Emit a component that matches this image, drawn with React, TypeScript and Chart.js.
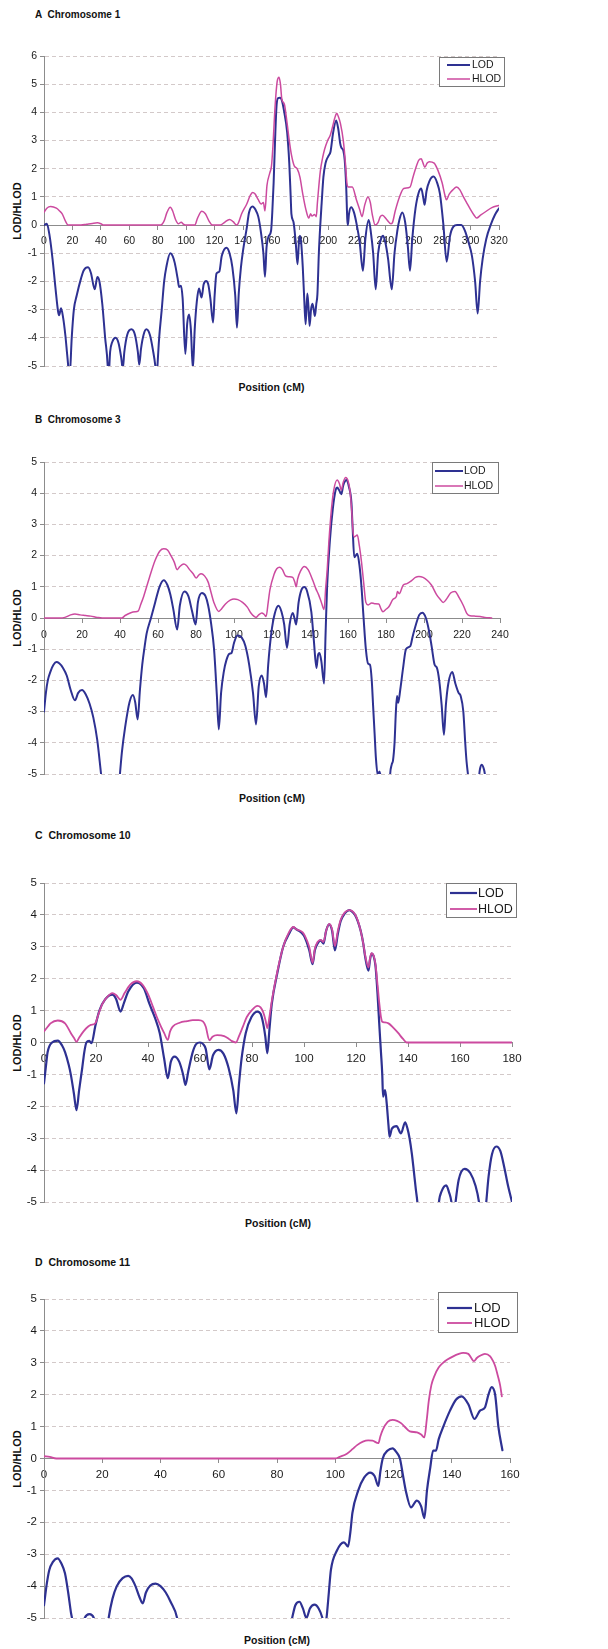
import React, { useEffect, useRef } from 'react';
import { Chart, registerables } from 'chart.js';

Chart.register(...registerables);

const FONT = '"Liberation Sans", Arial, Helvetica, sans-serif';
const LOD_COLOR = '#2e3192';
const HLOD_COLOR = '#cc4a9f';
const AXIS_COLOR = '#8c8c8c';
const GRID_COLOR = '#d3c9c9';
const TEXT_COLOR = '#1a1a1a';

const SERIES_LABELS = ['LOD', 'HLOD'];
const Y_TITLE = 'LOD/HLOD';
const X_TITLE = 'Position (cM)';

// ---------- Chromosome 1 ----------
const chr1LodPos = [0, 2, 4, 6, 8, 10, 10.6, 12, 13.5, 15,
  16.5, 18, 19.5, 21, 23, 26, 28, 31, 33, 35.7,
  37.5, 39, 41, 43, 44.8, 45.2, 46.5, 48, 50.3, 52.5,
  54.3, 55.4, 56.5, 58.5, 61.5, 64, 66, 67, 68.2, 70,
  72, 74.5, 76.5, 78.5, 79.2, 79.8, 81, 82.8, 84.5, 86,
  88.8, 90.5, 92, 94, 95, 96.3, 97.5, 99.4, 100.7, 102,
  103.3, 104.7, 106, 107.5, 109, 110.8, 112.3, 114, 115.5, 117,
  118.9, 120, 121.3, 123.3, 125, 128.4, 130.5, 132.5, 134.5, 135.7,
  137, 138.5, 140, 142.6, 144.2, 146.7, 148.7, 150.7, 152.7, 154.3,
  155.4, 156.5, 158, 159.7, 160.5, 161.5, 162.5, 163.5, 164.5, 166,
  167.3, 169, 171, 172.5, 173.5, 174, 175.5, 177, 178.3, 179.3,
  180, 181, 182, 183, 184, 185.2, 186, 186.8, 187.8, 188.8,
  189.7, 190.5, 191.5, 192.3, 193.3, 194.3, 195.3, 196.5, 198, 200,
  201.5, 203.4, 205.5, 207, 208.3, 209.1, 210.5, 211.5, 212.5, 213.3,
  213.7, 214.5, 216, 218, 220, 222, 224.3, 226, 228.4, 230,
  231.5, 233.3, 235, 237, 238.5, 240, 242, 244.6, 246.5, 248.5,
  250, 252, 254, 255.8, 257.4, 259, 261.3, 263.5, 265.3, 266.8,
  267.7, 269, 271, 274, 276.5, 278.5, 280.8, 283.2, 285.5, 288,
  290.5, 293.5, 296, 298.5, 301, 303.2, 305, 306.7, 308.5, 311,
  314.5, 317, 320];
const chr1Lod = [0, 0.05, -0.4, -1.2, -2.2, -3.1, -3.2, -2.95, -3.3, -3.9,
  -4.7, -5.4, -4.0, -3.0, -2.5, -1.9, -1.6, -1.5, -1.7, -2.28,
  -1.84, -2.0, -2.8, -4.0, -5.0, -5.6, -4.5, -4.15, -4.0, -4.2,
  -4.7, -5.1, -4.5, -3.9, -3.7, -3.9, -4.5, -4.95, -4.4, -3.9,
  -3.7, -3.9, -4.4, -5.1, -5.6, -5.0, -4.0, -3.0, -2.0, -1.5,
  -1.0, -1.1, -1.35, -1.9, -2.2, -2.15, -2.6, -4.57, -3.5, -3.17,
  -3.7, -5.1, -3.7, -2.7, -2.25, -2.57, -2.1, -1.98, -2.1, -2.6,
  -3.46, -2.5, -1.72, -1.65, -1.1, -0.8, -1.0, -1.5, -2.5, -3.64,
  -2.4, -1.5, -0.9, -0.1, 0.45, 0.66, 0.55, 0.3, -0.3, -1.0,
  -1.83, -0.8, -0.4, -0.2, 0.4, 1.5, 3.0, 4.2, 4.5, 4.52,
  4.42, 4.0, 3.3, 2.2, 1.0, 0.4, 0.1, -0.6, -1.39, -0.6,
  -0.38, -0.7, -1.5, -2.6, -3.52, -2.43, -2.9, -3.58, -3.0, -2.79,
  -3.0, -3.23, -2.8, -2.45, -1.0, 0.0, 0.8, 1.7, 2.2, 2.45,
  2.6, 3.3, 3.71, 3.4, 2.9, 2.75, 2.65, 2.3, 1.4, 0.2,
  0.0, 0.4, 0.63, 0.45, 0.0, -0.6, -1.62, -0.5, 0.18, -0.3,
  -1.0, -2.28, -1.0, -0.5, -0.38, -0.6, -1.2, -2.28, -1.0, -0.2,
  0.2, 0.45, 0.1, -0.7, -1.62, -0.5, 0.6, 1.15, 1.3, 0.95,
  0.72, 1.2, 1.55, 1.72, 1.5, 1.1, 0.06, -1.3, -0.4, -0.05,
  0.0, 0.0, -0.2, -0.6, -1.1, -2.0, -3.14, -2.0, -1.2, -0.5,
  0.05, 0.35, 0.6];
const chr1HlodPos = [0, 2, 4.7, 8.7, 11, 12.8, 15, 17, 26, 30,
  34, 37.5, 40, 42, 82, 84.5, 86.5, 88.8, 90.5, 92.5,
  94.5, 96.5, 98, 99.5, 106, 108, 111, 113.5, 116, 118.5,
  124, 127, 130.5, 133, 135.5, 136.5, 139, 142.6, 145, 146.7,
  148.5, 150.7, 152.7, 154.3, 155.4, 156.8, 158.8, 160, 161, 162.5,
  164, 165.3, 166.3, 167.3, 169, 171, 172.5, 174, 176, 178,
  180, 182, 184.2, 186.2, 187.5, 188.5, 190.3, 191.5, 192.3, 194.3,
  196, 197.4, 199.5, 201.4, 203, 204.5, 205.9, 207, 208.5, 210.5,
  212, 213, 214, 216.8, 219.7, 222, 223.7, 225.5, 227.8, 229.5,
  230.8, 232.9, 235, 236.5, 238, 241, 244, 245, 247, 250,
  253, 257.4, 259.5, 261.3, 263.5, 265.3, 266.6, 267.8, 269.5, 271,
  274.4, 277, 280, 282, 283, 285, 287.5, 290.2, 292.5, 295,
  297.2, 300, 302.5, 304.3, 307, 311.3, 315, 320];
const chr1Hlod = [0.45, 0.6, 0.66, 0.6, 0.5, 0.4, 0.15, 0.0, 0.0, 0.03,
  0.06, 0.08, 0.05, 0.0, 0.0, 0.15, 0.45, 0.63, 0.5, 0.2,
  0.05, 0.1, 0.03, 0.0, 0.0, 0.25, 0.49, 0.4, 0.15, 0.0,
  0.0, 0.1, 0.2, 0.12, 0.0, 0.05, 0.4, 0.75, 1.05, 1.16,
  1.1, 0.9, 0.75, 0.8, 0.5, 1.4, 1.85, 2.1, 2.8, 4.2,
  5.1, 5.25, 5.0, 4.45, 4.3, 3.6, 3.0, 2.5, 2.1, 2.0,
  1.7, 1.1, 0.55, 0.25, 0.4, 0.32, 0.38, 0.3, 0.8, 1.9,
  2.4, 2.7, 3.0, 3.2, 3.5, 3.8, 3.97, 3.85, 3.6, 3.0,
  2.2, 1.5, 1.35, 1.35, 0.9, 0.55, 0.3, 0.7, 1.0, 0.8,
  0.4, 0.0, 0.1, 0.3, 0.35, 0.2, 0.05, 0.08, 0.5, 1.0,
  1.3, 1.35, 1.7, 2.0, 2.3, 2.35, 2.2, 2.05, 2.2, 2.25,
  2.2, 1.95, 1.5, 1.05, 0.9, 1.1, 1.25, 1.35, 1.25, 1.0,
  0.8, 0.55, 0.35, 0.25, 0.35, 0.5, 0.62, 0.7];

// ---------- Chromosome 3 ----------
const chr3LodPos = [0, 1, 2, 3.5, 5, 6.5, 8, 10, 12, 14,
  16.3, 18, 20, 22, 24, 26, 28, 29.5, 30.5, 32,
  38, 39.7, 41, 42.7, 45, 46.8, 48, 49.3, 50.5, 51.7,
  53, 54, 56.3, 58.5, 60.8, 63, 65, 66.5, 68, 70.1,
  71.5, 73.9, 76, 78, 79.8, 81, 83.1, 85, 86.4, 88,
  89.5, 91, 92, 93.2, 94.7, 96, 97.5, 98.7, 100, 101.8,
  104, 106, 108, 110, 111.6, 113, 114.6, 115.8, 116.9, 118,
  119.6, 121.5, 123.4, 125, 126.4, 127.9, 129.3, 130.9, 131.8, 132.7,
  134, 135.5, 137, 138.5, 140.7, 142, 143.4, 144.2, 145, 146,
  147.4, 148.2, 149, 150.5, 152, 153.5, 154.3, 155.3, 156.5, 157.5,
  159.3, 160.5, 161.8, 162.5, 163.3, 164.9, 166, 167.1, 168.2, 169.4,
  170.6, 171.6, 172.5, 173.2, 174, 174.7, 175.7, 176.5, 177.5, 178.5,
  181.5, 182.2, 183, 183.7, 184.5, 185.2, 185.8, 186.4, 187.5, 189,
  190.5, 192.8, 194, 195.8, 197.5, 199.1, 201, 202.6, 204, 205.6,
  206.8, 208, 209.3, 210.5, 211.5, 212.8, 214.9, 216.5, 218.2, 219.3,
  220.7, 221.7, 222.4, 223.3, 224.5, 228.5, 229.3, 230.3, 231.3, 232.2,
  233];
const chr3Lod = [-3.0, -2.4, -2.0, -1.7, -1.5, -1.41, -1.45, -1.6, -1.85, -2.3,
  -2.64, -2.4, -2.31, -2.45, -2.75, -3.2, -3.9, -4.7, -5.3, -6.5,
  -6.5, -5.2, -4.3, -3.5, -2.7, -2.47, -2.7, -3.25, -2.3, -1.5,
  -0.9, -0.5, 0.0, 0.5, 1.0, 1.21, 1.05, 0.75, 0.3, -0.37,
  0.4, 0.85, 0.7, 0.2, -0.21, 0.5, 0.8, 0.7, 0.4, -0.2,
  -1.0, -2.5, -3.57, -2.4, -1.7, -1.35, -1.15, -1.12, -0.8, -0.56,
  -0.62, -0.9, -1.5, -2.4, -3.41, -2.2, -1.84, -2.1, -2.54, -1.5,
  -0.5, 0.15, 0.39, 0.2, -0.2, -0.96, -0.2, 0.16, 0.0, -0.21,
  0.5, 0.9, 0.99, 0.85, 0.2, -0.7, -1.6, -1.2, -1.12, -1.4,
  -2.1, -0.5, 1.0, 2.5, 3.5, 4.1, 4.18, 4.1, 3.97, 4.25,
  4.42, 4.2, 3.7, 2.8, 1.95, 2.06, 1.7, 1.0, 0.0, -1.0,
  -1.47, -1.5, -2.0, -2.8, -3.7, -4.5, -5.05, -4.92, -5.2, -6.0,
  -6.0, -5.0, -4.7, -4.56, -4.0, -3.0, -2.5, -2.72, -2.3, -1.6,
  -1.0, -0.9, -0.6, -0.2, 0.1, 0.17, 0.0, -0.4, -0.9, -1.5,
  -1.6, -2.0, -2.8, -3.74, -2.8, -2.1, -1.73, -2.1, -2.4, -2.5,
  -3.0, -4.0, -4.6, -5.1, -6.0, -5.4, -4.9, -4.7, -4.8, -5.1,
  -6.0];
const chr3HlodPos = [0, 8, 11, 14, 16.3, 19, 22, 24.6, 28, 30.6,
  41, 42.7, 45.7, 48, 49.5, 51, 52.5, 55.5, 58.5, 61,
  63, 65, 66.8, 68.5, 70.1, 71.5, 73.6, 75, 76.6, 78.5,
  80.1, 81.5, 82.7, 84.5, 86.4, 88, 89.4, 92, 93.5, 95.5,
  98, 100, 102, 104.5, 107, 109, 111.6, 113, 114.6, 115.8,
  116.9, 118, 118.9, 121.1, 122.5, 124.1, 125.5, 127.1, 129, 130.9,
  132, 132.7, 133.5, 135, 137, 139, 141.5, 143, 144.5, 146,
  147.4, 148.3, 149, 150, 151.3, 152.5, 154.3, 155.5, 156.5, 157.5,
  158.8, 160, 161, 162, 162.6, 163.3, 164.9, 166, 167.1, 168.3,
  169.4, 170.6, 172.4, 174, 176.2, 177.3, 178.4, 180, 181.4, 183.7,
  185.5, 186, 187, 189, 191, 193.5, 195.5, 197.3, 199.5, 201.8,
  204, 206.6, 208.5, 210.1, 212, 214, 216.3, 218.5, 220.7, 222.5,
  224.2, 227, 229.5, 232, 235.6];
const chr3Hlod = [0, 0, 0.02, 0.1, 0.13, 0.1, 0.08, 0.06, 0.02, 0,
  0, 0.08, 0.17, 0.2, 0.22, 0.45, 0.7, 1.3, 1.85, 2.15,
  2.22, 2.18, 2.0, 1.8, 1.55, 1.65, 1.73, 1.68, 1.55, 1.42,
  1.28, 1.38, 1.42, 1.35, 1.15, 0.8, 0.5, 0.21, 0.3, 0.45,
  0.57, 0.61, 0.59, 0.5, 0.35, 0.15, 0.02, 0.1, 0.16, 0.12,
  0.05, 0.5, 0.9, 1.4, 1.58, 1.63, 1.55, 1.35, 1.32, 1.3,
  1.15, 1.0, 1.25, 1.5, 1.65, 1.55, 1.2, 0.95, 0.75, 0.5,
  0.27, 1.0, 1.5, 2.5, 3.5, 4.1, 4.42, 4.3, 4.1, 4.35,
  4.5, 4.4, 4.1, 3.4, 2.8, 2.6, 2.66, 2.3, 1.8, 1.1,
  0.5, 0.42, 0.48, 0.46, 0.45, 0.3, 0.2, 0.28, 0.35, 0.6,
  0.7, 0.85, 0.78, 1.05, 1.1, 1.2, 1.3, 1.33, 1.3, 1.2,
  1.05, 0.75, 0.6, 0.5, 0.62, 0.8, 0.85, 0.65, 0.4, 0.15,
  0.07, 0.06, 0.05, 0.02, 0];

// ---------- Chromosome 10 ----------
const chr10LodPos = [0, 0.8, 1.4, 3.1, 5.3, 7, 8.1, 9.5, 10.3, 11.5,
  12.5, 13.5, 14.7, 15.5, 16.3, 17.4, 18.3, 19.7, 21.3, 23.5,
  26.3, 27.8, 29.4, 30.8, 32.4, 35.7, 38.4, 40.6, 42.8, 44.5,
  46.2, 47.6, 48.8, 50.2, 52, 53.5, 54.4, 55.5, 57.2, 58.5,
  60, 61.2, 62.2, 63.6, 65, 67.1, 69, 71, 72.8, 74,
  75, 76, 77.6, 79.8, 82.1, 83.3, 84.3, 85.1, 85.9, 86.7,
  87.6, 89.8, 92, 94.2, 95.9, 97, 98.1, 99.5, 100.3, 102,
  103.3, 104.2, 105.2, 106.4, 107.5, 108.5, 109.7, 110.8, 111.9, 113,
  114.1, 115.7, 117.4, 118.5, 119.6, 120.7, 121.8, 122.8, 123.5, 124.8,
  125.4, 126, 126.8, 127.5, 128.3, 129, 129.6, 130.1, 130.4, 131.2,
  131.8, 132.5, 132.9, 133.8, 135.6, 137.3, 138.9, 139.8, 140.6, 141.5,
  142.2, 143, 143.6, 144.5, 151, 151.9, 153, 154.7, 155.8, 156.7,
  157.3, 157.8, 158.3, 159.5, 161.8, 164, 166, 167.3, 168, 169.5,
  170.1, 171, 172.3, 174, 175.5, 177, 178.5, 180];
const chr10Lod = [-1.28, -0.7, -0.3, 0.0, 0.06, -0.1, -0.3, -0.7, -1.0, -1.6,
  -2.12, -1.5, -0.8, -0.3, 0.0, 0.05, -0.02, 0.5, 1.0, 1.35,
  1.5, 1.35, 0.97, 1.25, 1.6, 1.88, 1.7, 1.2, 0.75, 0.3,
  -0.5, -1.12, -0.6, -0.44, -0.6, -1.0, -1.33, -0.9, -0.3, -0.05,
  0.0, -0.05, -0.2, -0.84, -0.4, -0.23, -0.35, -0.8, -1.5, -2.22,
  -1.3, -0.5, 0.3, 0.8, 0.97, 0.9, 0.6, 0.2, -0.34, 0.4,
  1.2, 2.2, 3.0, 3.4, 3.61, 3.55, 3.5, 3.4, 3.3, 2.9,
  2.46, 2.9, 3.1, 3.2, 3.1, 3.5, 3.7, 3.5, 2.89, 3.4,
  3.8, 4.05, 4.15, 4.1, 4.0, 3.8, 3.5, 3.1, 2.7, 2.25,
  2.6, 2.79, 2.7, 2.4, 1.5, 0.5, -0.3, -1.0, -1.7, -1.49,
  -1.9, -2.6, -2.95, -2.7, -2.62, -2.85, -2.5, -2.7, -3.0, -3.5,
  -4.0, -4.6, -5.0, -6.0, -6.0, -5.0, -4.65, -4.48, -4.7, -5.0,
  -5.5, -5.4, -5.0, -4.3, -3.96, -4.1, -4.5, -5.0, -5.5, -5.5,
  -5.0, -4.2, -3.5, -3.26, -3.4, -3.9, -4.5, -5.0];
const chr10HlodPos = [0, 1.5, 2.5, 5.3, 8.1, 10.3, 11.5, 12.5, 13.5, 15.2,
  17, 18, 19.7, 21, 22.4, 24, 26.3, 27.8, 29.4, 31,
  33, 35.7, 38, 40.1, 42, 43.4, 45, 46.2, 47.6, 48.5,
  49.5, 52.2, 55, 57.2, 59.5, 61.1, 62.2, 63.6, 64.8, 66.6,
  69.3, 71, 72.1, 73.8, 75, 76.5, 78, 79.8, 82.1, 83.3,
  84.3, 85.2, 85.9, 86.7, 87.6, 89.8, 92, 94.2, 95.9, 97,
  98.1, 99.5, 100.3, 102, 103.3, 104.2, 105.2, 106.4, 107.5, 108.5,
  109.7, 110.8, 111.9, 113, 114.1, 115.7, 117.4, 118.5, 119.6, 120.7,
  121.8, 122.8, 123.5, 124.8, 125.4, 126, 126.8, 127.5, 128.3, 129,
  129.6, 130.1, 131, 132.5, 134.5, 136.2, 138, 139.5, 180];
const chr10Hlod = [0.35, 0.5, 0.6, 0.69, 0.6, 0.3, 0.15, 0.02, 0.15, 0.35,
  0.5, 0.55, 0.6, 0.9, 1.2, 1.4, 1.55, 1.48, 1.34, 1.55,
  1.8, 1.92, 1.8, 1.5, 1.1, 0.8, 0.5, 0.3, 0.08, 0.35,
  0.5, 0.62, 0.67, 0.7, 0.7, 0.66, 0.5, 0.07, 0.18, 0.23,
  0.2, 0.12, 0.05, 0.0, 0.2, 0.5, 0.8, 1.0, 1.15, 1.1,
  0.95, 0.7, 0.45, 0.8, 1.3, 2.25, 3.0, 3.45, 3.62, 3.55,
  3.52, 3.45, 3.35, 3.0, 2.5, 2.95, 3.15, 3.22, 3.15, 3.5,
  3.72, 3.55, 3.02, 3.5, 3.85, 4.08, 4.15, 4.12, 4.02, 3.82,
  3.5, 3.1, 2.75, 2.35, 2.65, 2.8, 2.72, 2.45, 1.8, 1.2,
  0.8, 0.65, 0.63, 0.6, 0.45, 0.3, 0.12, 0.0, 0.0];

// ---------- Chromosome 11 ----------
const chr11LodPos = [0, 1, 1.8, 3, 4.7, 6, 7.2, 8.3, 9.2, 9.9,
  10.5, 13, 14, 15.6, 17.1, 18, 21.5, 22.2, 23.5, 25,
  27, 28.9, 30, 31.4, 32.8, 33.9, 35, 36.5, 38.3, 40,
  41.8, 43.5, 45.7, 46.5, 84, 85.2, 86.3, 87.7, 88.9, 90.1,
  91.3, 92.9, 94.3, 95.6, 96.3, 97, 97.8, 98.5, 100.5, 103,
  104.4, 105.2, 105.9, 107.9, 109.9, 112, 113.5, 114.8, 115.5, 116.3,
  118, 119.7, 121, 122.2, 123.2, 124.2, 126, 128, 129.5, 130.6,
  131.5, 132.6, 133.6, 134.6, 135.5, 137.1, 139.4, 141.5, 143.4, 145.7,
  147.8, 149.7, 151.4, 152.6, 153.7, 154.9, 156, 157.4];
const chr11Lod = [-4.6, -3.9, -3.5, -3.25, -3.13, -3.3, -3.6, -4.2, -4.8, -5.2,
  -6.0, -5.5, -5.0, -4.88, -5.0, -5.6, -5.5, -5.0, -4.4, -4.0,
  -3.75, -3.68, -3.75, -4.0, -4.35, -4.54, -4.2, -3.98, -3.92, -4.0,
  -4.2, -4.5, -5.0, -5.5, -5.5, -5.0, -4.6, -4.49, -4.7, -5.0,
  -4.7, -4.58, -4.7, -5.0, -5.3, -5.0, -4.2, -3.5, -2.9, -2.63,
  -2.76, -2.3, -1.7, -1.0, -0.6, -0.44, -0.55, -0.86, -0.4, 0.0,
  0.25, 0.32, 0.2, 0.0, -0.5, -1.0, -1.53, -1.32, -1.5, -1.87,
  -1.0, -0.3, 0.25, 0.25, 0.6, 1.0, 1.5, 1.85, 1.95, 1.7,
  1.24, 1.5, 1.6, 2.0, 2.24, 2.0, 1.0, 0.26];
const chr11HlodPos = [0, 2, 4.2, 100, 101.5, 104, 106, 107.5, 109.5, 111.3,
  112.8, 114.8, 115.5, 116.3, 118, 119.7, 121.2, 122.7, 124, 125.6,
  128.1, 129.5, 130.6, 131.4, 132.1, 133, 134.1, 135.5, 137, 138.5,
  140.5, 142.2, 143.9, 145.7, 146.7, 147.6, 148.6, 149.7, 151.4, 153.2,
  154.2, 154.9, 155.8, 156.6, 157.2];
const chr11Hlod = [0.07, 0.05, 0.0, 0.0, 0.05, 0.15, 0.3, 0.42, 0.53, 0.57,
  0.56, 0.48, 0.7, 0.9, 1.15, 1.21, 1.18, 1.1, 0.98, 0.85,
  0.82, 0.75, 0.66, 1.2, 1.8, 2.3, 2.6, 2.85, 3.0, 3.1,
  3.2, 3.27, 3.31, 3.28, 3.15, 3.05, 3.15, 3.22, 3.28, 3.2,
  3.05, 2.9, 2.6, 2.3, 1.95];

// ---------- layout of the four panels ----------
const PANELS = [
  {
    title: 'A  Chromosome 1', xMax: 320, yMax: 6,
    lodPos: chr1LodPos, lod: chr1Lod, hlodPos: chr1HlodPos, hlod: chr1Hlod,
    plotTop: 56, plotBottom: 366, plotRight: 499, titleY: 15, xTitleY: 387,
    tickFont: 10.5, xTickPad: 6, lodWidth: 2, hlodWidth: 1.5, titleFont: 10,
    legend: { x: 439, y: 57, w: 66, h: 30, font: 10.5, lineX0: 447, lineX1: 470, textX: 472, rows: [8, 22] },
  },
  {
    title: 'B  Chromosome 3', xMax: 240, yMax: 5,
    lodPos: chr3LodPos, lod: chr3Lod, hlodPos: chr3HlodPos, hlod: chr3Hlod,
    plotTop: 462, plotBottom: 774, plotRight: 500, titleY: 420, xTitleY: 798,
    tickFont: 10.5, xTickPad: 7, lodWidth: 2, hlodWidth: 1.5, titleFont: 10,
    legend: { x: 432, y: 462, w: 67, h: 32, font: 10.5, lineX0: 435, lineX1: 463, textX: 464, rows: [9, 24] },
  },
  {
    title: 'C  Chromosome 10', xMax: 180, yMax: 5,
    lodPos: chr10LodPos, lod: chr10Lod, hlodPos: chr10HlodPos, hlod: chr10Hlod,
    plotTop: 883, plotBottom: 1202, plotRight: 512, titleY: 835, xTitleY: 1223,
    tickFont: 11.5, xTickPad: 5, lodWidth: 2.2, hlodWidth: 1.8, titleFont: 10.5,
    legend: { x: 446, y: 883, w: 71, h: 35, font: 12.5, lineX0: 450, lineX1: 477, textX: 478, rows: [10, 26] },
  },
  {
    title: 'D  Chromosome 11', xMax: 160, yMax: 5,
    lodPos: chr11LodPos, lod: chr11Lod, hlodPos: chr11HlodPos, hlod: chr11Hlod,
    plotTop: 1299, plotBottom: 1618, plotRight: 510, titleY: 1262, xTitleY: 1640,
    tickFont: 11.5, xTickPad: 5, lodWidth: 2.2, hlodWidth: 1.8, titleFont: 10.5,
    legend: { x: 438, y: 1292, w: 80, h: 41, font: 13, lineX0: 447, lineX1: 472, textX: 474, rows: [16, 31] },
  },
];

const PAD = 14;

const boxLegend = {
  id: 'boxLegend',
  afterDatasetsDraw(chart: any, _args: any, opts: any) {
    const ctx = chart.ctx;
    ctx.save();
    ctx.fillStyle = '#ffffff';
    ctx.fillRect(opts.x, opts.y, opts.w, opts.h);
    ctx.strokeStyle = '#7a7a7a';
    ctx.lineWidth = 1;
    ctx.setLineDash([]);
    ctx.strokeRect(opts.x + 0.5, opts.y + 0.5, opts.w - 1, opts.h - 1);
    ctx.font = `${opts.font}px ${FONT}`;
    ctx.textBaseline = 'middle';
    ctx.textAlign = 'left';
    chart.data.datasets.forEach((ds: any, i: number) => {
      const cy = opts.y + opts.rows[i];
      ctx.strokeStyle = ds.borderColor;
      ctx.lineWidth = ds.borderWidth;
      ctx.beginPath();
      ctx.moveTo(opts.lineX0, cy);
      ctx.lineTo(opts.lineX1, cy);
      ctx.stroke();
      ctx.fillStyle = TEXT_COLOR;
      ctx.fillText(ds.label, opts.textX, cy + 0.5);
    });
    ctx.restore();
  },
};

function Panel({ spec }: { spec: any }) {
  const ref = useRef<HTMLCanvasElement>(null);
  const canvasTop = spec.plotTop - PAD;
  const canvasH = spec.plotBottom - spec.plotTop + 2 * PAD;

  useEffect(() => {
    const canvas = ref.current;
    if (!canvas) return;
    const pts = (xs: number[], ys: number[]) => xs.map((x, i) => ({ x, y: ys[i] }));
    const chart = new Chart(canvas, {
      type: 'line',
      data: {
        datasets: [
          {
            label: SERIES_LABELS[0],
            data: pts(spec.lodPos, spec.lod),
            borderColor: LOD_COLOR,
            borderWidth: spec.lodWidth,
            pointRadius: 0,
            fill: false,
            cubicInterpolationMode: 'monotone',
            borderJoinStyle: 'round',
            borderCapStyle: 'round',
            order: 1,
          },
          {
            label: SERIES_LABELS[1],
            data: pts(spec.hlodPos, spec.hlod),
            borderColor: HLOD_COLOR,
            borderWidth: spec.hlodWidth,
            pointRadius: 0,
            fill: false,
            cubicInterpolationMode: 'monotone',
            borderJoinStyle: 'round',
            borderCapStyle: 'round',
            order: 0,
          },
        ],
      },
      options: {
        responsive: false,
        animation: false,
        events: [],
        layout: { padding: { top: PAD, bottom: PAD, left: 0, right: 608 - spec.plotRight } },
        plugins: {
          legend: { display: false },
          tooltip: { enabled: false },
          boxLegend: { ...spec.legend, y: spec.legend.y - canvasTop },
        } as any,
        scales: {
          x: {
            type: 'linear',
            min: 0,
            max: spec.xMax,
            position: { y: 0 } as any,
            ticks: {
              stepSize: 20,
              autoSkip: false,
              maxRotation: 0,
              padding: spec.xTickPad,
              color: TEXT_COLOR,
              font: { family: FONT, size: spec.tickFont },
            },
            grid: {
              drawOnChartArea: false,
              drawTicks: true,
              tickLength: 4,
              tickColor: AXIS_COLOR,
              color: AXIS_COLOR,
            },
            border: { display: true, color: AXIS_COLOR, width: 1 },
          },
          y: {
            type: 'linear',
            min: -5,
            max: spec.yMax,
            afterFit: (scale: any) => { scale.width = 44; },
            ticks: {
              stepSize: 1,
              padding: 3,
              color: TEXT_COLOR,
              font: { family: FONT, size: spec.tickFont },
            },
            grid: {
              color: (c: any) => (c.tick && c.tick.value === 0 ? 'rgba(0,0,0,0)' : GRID_COLOR),
              tickColor: AXIS_COLOR,
              tickLength: 4,
              lineWidth: 1,
            },
            border: { display: true, color: AXIS_COLOR, width: 1, dash: [4, 3] },
          },
        } as any,
      },
      plugins: [boxLegend as any],
    });
    return () => chart.destroy();
  }, [spec]);

  const plotMid = (spec.plotTop + spec.plotBottom) / 2;
  return (
    <>
      <div
        style={{
          position: 'absolute', left: 35, top: spec.titleY - 7, height: 14, lineHeight: '14px',
          fontWeight: 'bold', fontSize: spec.titleFont, whiteSpace: 'pre', color: '#111',
        }}
      >
        {spec.title}
      </div>
      <div
        style={{
          position: 'absolute', left: 17 - 60, top: plotMid - 7, width: 120, height: 14, lineHeight: '14px',
          textAlign: 'center', transform: 'rotate(-90deg)', fontWeight: 'bold', fontSize: 11, color: '#111',
        }}
      >
        {Y_TITLE}
      </div>
      <canvas
        ref={ref}
        width={608}
        height={canvasH}
        style={{ position: 'absolute', left: 0, top: canvasTop, width: 608, height: canvasH }}
      />
      <div
        style={{
          position: 'absolute', left: 44, width: spec.plotRight - 44, top: spec.xTitleY - 7, height: 14,
          lineHeight: '14px', textAlign: 'center', fontWeight: 'bold', fontSize: 10.5, color: '#111',
        }}
      >
        {X_TITLE}
      </div>
    </>
  );
}

export default function App() {
  return (
    <div
      style={{
        position: 'absolute', left: 0, top: 0, width: 608, height: 1649, background: '#ffffff',
        overflow: 'hidden', fontFamily: FONT,
      }}
    >
      {PANELS.map((p) => (
        <Panel key={p.title} spec={p} />
      ))}
    </div>
  );
}
